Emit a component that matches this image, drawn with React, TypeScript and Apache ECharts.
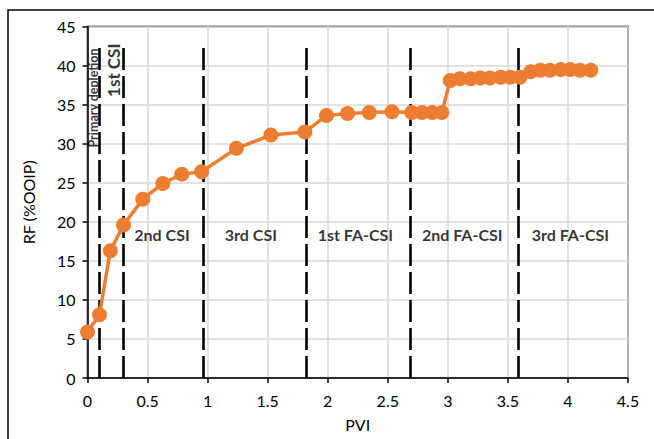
import React, { useEffect, useRef } from "react";
import * as echarts from "echarts";

const pvi = [0, 0.1, 0.19, 0.3, 0.46, 0.627, 0.785, 0.95, 1.24, 1.527, 1.81, 1.99, 2.165, 2.346, 2.535, 2.7, 2.785, 2.87, 2.95, 3.02, 3.1, 3.19, 3.27, 3.35, 3.44, 3.52, 3.6, 3.69, 3.77, 3.85, 3.94, 4.02, 4.1, 4.19];
const rf = [5.9, 8.1, 16.3, 19.6, 22.9, 24.9, 26.1, 26.4, 29.4, 31.1, 31.5, 33.6, 33.85, 34.0, 34.1, 34.0, 34.0, 34.0, 34.0, 38.1, 38.3, 38.3, 38.4, 38.4, 38.5, 38.5, 38.5, 39.2, 39.4, 39.4, 39.5, 39.5, 39.4, 39.4];

const dividers = [0.1, 0.3, 0.96, 1.82, 2.69, 3.59];
const dividerTop = 43;

const stageNames = ["2nd CSI", "3rd CSI", "1st FA-CSI", "2nd FA-CSI", "3rd FA-CSI"];
const stageX = [0.62, 1.36, 2.23, 3.12, 4.02];
const stageY = [18.4, 18.4, 18.4, 18.4, 18.4];

const verticalNames = ["Primary depletion", "1st CSI"];
const verticalX = [0.05, 0.215];
const verticalY = [35.85, 39.4];
const verticalSize = [12.5, 17];

const FONT = "Lato, 'Open Sans', sans-serif";

export default function App() {
  const ref = useRef<HTMLDivElement>(null);
  useEffect(() => {
    if (!ref.current) return;
    const chart = echarts.init(ref.current, null, { renderer: "svg" });
    const verticalSeries = verticalNames.map((n, i) => ({
      type: "scatter",
      symbolSize: 0,
      silent: true,
      data: [{ value: [verticalX[i], verticalY[i]], name: n }],
      label: {
        show: true,
        position: "inside",
        rotate: 90,
        formatter: n,
        fontSize: verticalSize[i],
        fontWeight: "bold",
        color: "#000",
        fontFamily: FONT,
      },
      z: 6,
    }));
    chart.setOption({
      animation: false,
      textStyle: { fontFamily: FONT },
      graphic: [
        {
          type: "rect",
          shape: { x: 8, y: 10, width: 700, height: 500 },
          style: { fill: "none", stroke: "#000", lineWidth: 1.5 },
          silent: true,
        },
      ],
      grid: {
        left: 87.5,
        right: 26,
        top: 26.5,
        bottom: 61,
        show: true,
        borderColor: "#000",
        borderWidth: 1.5,
        backgroundColor: "transparent",
      },
      xAxis: {
        type: "value",
        min: 0,
        max: 4.5,
        interval: 0.5,
        name: "PVI",
        nameLocation: "middle",
        nameGap: 38,
        nameTextStyle: { fontSize: 16, color: "#000", fontFamily: FONT },
        axisLine: { lineStyle: { color: "#000", width: 1.5 } },
        axisTick: { show: true, length: 5, lineStyle: { color: "#000", width: 1.5 } },
        axisLabel: { fontSize: 16, color: "#000", margin: 14, fontFamily: FONT },
        splitLine: { show: true, lineStyle: { color: "#d9d9d9", width: 1.5 } },
      },
      yAxis: {
        type: "value",
        min: 0,
        max: 45,
        interval: 5,
        name: "RF (%OOIP)",
        nameLocation: "middle",
        nameGap: 51,
        nameTextStyle: { fontSize: 16, color: "#000", fontFamily: FONT },
        axisLine: { show: true, lineStyle: { color: "#000", width: 1.5 } },
        axisTick: { show: true, length: 5, lineStyle: { color: "#000", width: 1.5 } },
        axisLabel: { fontSize: 16, color: "#000", margin: 12, fontFamily: FONT },
        splitLine: { show: true, lineStyle: { color: "#d9d9d9", width: 1.5 } },
      },
      series: [
        {
          type: "line",
          data: [],
          silent: true,
          markLine: {
            silent: true,
            symbol: "none",
            label: { show: false },
            lineStyle: { color: "#000", width: 2.6, type: [22, 6] },
            data: dividers.map((d) => [
              { coord: [d, 0] },
              { coord: [d, dividerTop] },
            ]),
          },
        },
        {
          type: "line",
          data: pvi.map((x, i) => [x, rf[i]]),
          symbol: "circle",
          symbolSize: 15,
          lineStyle: { color: "#ED7D31", width: 3.5 },
          itemStyle: { color: "#ED7D31" },
          z: 5,
        },
        {
          type: "scatter",
          symbolSize: 0,
          silent: true,
          data: stageNames.map((n, i) => ({ value: [stageX[i], stageY[i]], name: n })),
          label: {
            show: true,
            position: "inside",
            formatter: (p: any) => p.name,
            fontSize: 16,
            fontWeight: "bold",
            color: "#000",
            fontFamily: FONT,
          },
          z: 6,
        },
        ...verticalSeries,
      ],
    });
    return () => chart.dispose();
  }, []);
  return (
    <div
      ref={ref}
      style={{ position: "fixed", left: 0, top: 0, width: 654, height: 439, background: "#fff" }}
    />
  );
}
